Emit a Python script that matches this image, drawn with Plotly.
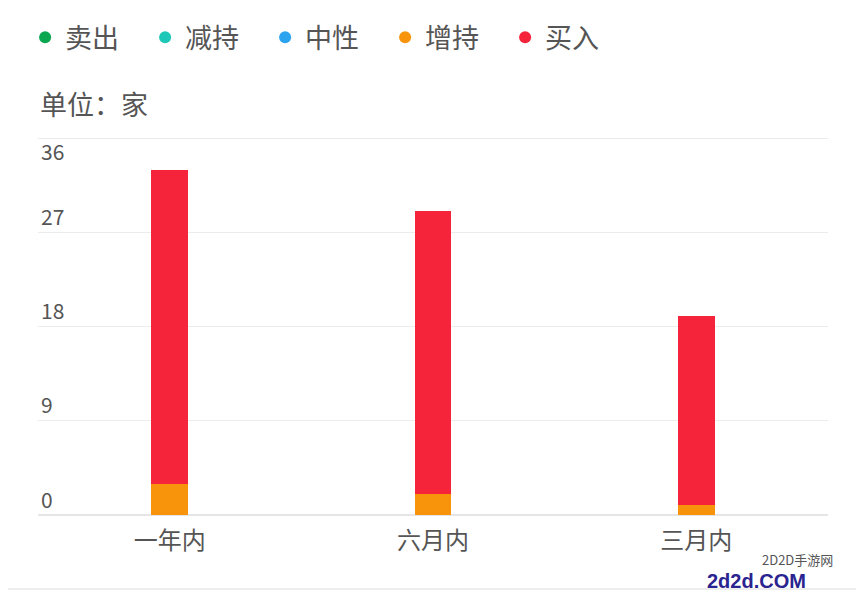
import plotly.graph_objects as go

# dane
categories = ["一年内", "六月内", "三月内"]
series_names = ["卖出", "减持", "中性", "增持", "买入"]
sell = [0, 0, 0]
reduce = [0, 0, 0]
neutral = [0, 0, 0]
overweight = [3, 2, 1]
buy = [30, 27, 18]
tick_vals = [0, 9, 18, 27, 36]
y_max = 36

colors = ["#0aa650", "#1ec8b8", "#2ba3ef", "#f7940c", "#f5243a"]
values = [sell, reduce, neutral, overweight, buy]
font_family = "Noto Sans CJK SC"
txt_color = "#555555"

fig = go.Figure()

# slupki (bez legendy)
for name, vals, col in zip(series_names, values, colors):
    fig.add_trace(go.Bar(x=categories, y=vals, name=name, marker_color=col,
                         marker_line_width=0, width=0.14, showlegend=False))

# legenda z kolkami
for i, (name, col) in enumerate(zip(series_names, colors)):
    fig.add_trace(go.Scatter(x=[None], y=[None], mode="markers", name=name,
                             yaxis="y2" if i == 0 else "y",
                             marker=dict(color=col, size=12, symbol="circle")))

y_top = y_max + 0.2  # troche miejsca, zeby linia 36 byla widoczna

# strona ma 8px marginesu body, wiec figura jest mniejsza o 8px
fig.update_layout(
    barmode="stack",
    width=856, height=583,
    margin=dict(l=30, r=36, t=128, b=76),
    paper_bgcolor="white",
    plot_bgcolor="white",
    font=dict(family=font_family, color=txt_color, size=20),
    legend=dict(orientation="h", xref="container", x=0.02, y=0.991, yref="container",
                yanchor="top", xanchor="left", entrywidth=75, traceorder="normal",
                font=dict(size=27, color=txt_color), itemsizing="constant"),
    annotations=[
        dict(text="单位：家", xref="paper", yref="paper", x=0.0, y=1.087,
             xanchor="left", yanchor="middle", showarrow=False,
             font=dict(size=27, color=txt_color)),
        dict(text="2D2D手游网", xref="paper", yref="paper", x=1.009, y=-0.118,
             xanchor="right", yanchor="middle", showarrow=False,
             font=dict(size=13, color=txt_color)),
        dict(text="<b>2d2d.COM</b>", xref="paper", yref="paper", x=0.975, y=-0.175,
             xanchor="right", yanchor="middle", showarrow=False,
             font=dict(size=20, color="#2a2490", family="Liberation Sans")),
    ],
    shapes=[
        dict(type="line", xref="paper", yref="paper", x0=-0.05, x1=1.05,
             y0=-0.195, y1=-0.195, line=dict(color="#eeeeee", width=2)),
    ],
    yaxis=dict(range=[0, y_top], tickvals=tick_vals, ticklabelposition="inside top",
               showgrid=True, gridcolor="#ececec", gridwidth=1, zeroline=True,
               zerolinecolor="#e6e6e6", tickfont=dict(size=21, color=txt_color),
               showline=False, ticks=""),
    yaxis2=dict(overlaying="y", range=[0, y_top], tickvals=[y_max],
                ticklabelposition="inside bottom", showgrid=False, zeroline=False,
                tickfont=dict(size=21, color=txt_color), ticks="", side="left"),
    xaxis=dict(range=[-0.5, 2.5], showgrid=False, tickfont=dict(size=24, color=txt_color),
               ticks="", showline=False, ticklabelstandoff=9),
)

fig.write_html("out.html")
